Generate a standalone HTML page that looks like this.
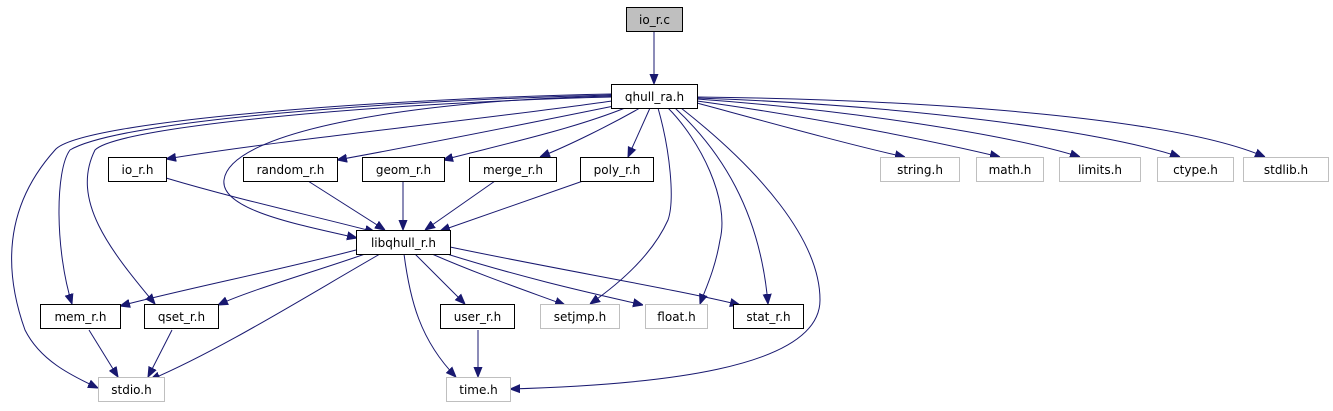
<!DOCTYPE html>
<html><head><meta charset="utf-8"><style>
html,body{margin:0;padding:0;background:#fff;}
svg{display:block;}
text{font-family:"DejaVu Sans","Liberation Sans",sans-serif;font-size:12px;fill:#000;}
.n{fill:#fff;stroke:#000;stroke-width:1;}
.g{fill:#fff;stroke:#bfbfbf;stroke-width:1;}
.e{fill:none;stroke:#191970;stroke-width:1;marker-end:url(#a);}
</style></head><body>
<svg width="1333" height="411" viewBox="0 0 1333 411" xmlns="http://www.w3.org/2000/svg">
<defs><marker id="a" viewBox="0 0 10 10" refX="10" refY="5" markerWidth="10" markerHeight="10" markerUnits="userSpaceOnUse" orient="auto"><path d="M0,1 L10,5 L0,9 z" fill="#191970" stroke="#191970"/></marker></defs>

<!-- edges -->
<path class="e" d="M654,31 L654,84"/>
<path class="e" d="M612,101 C480,120 280,140 166,159"/>
<path class="e" d="M614,106 C520,125 420,145 337,160"/>
<path class="e" d="M625,108 C570,130 500,145 443,160"/>
<path class="e" d="M640,108 C610,125 570,145 540,157"/>
<path class="e" d="M650,108 L628,157"/>
<path class="e" d="M697,103 C760,120 850,145 905,157"/>
<path class="e" d="M697,101 C800,115 930,140 1000,157"/>
<path class="e" d="M697,99 C850,110 1010,135 1080,157"/>
<path class="e" d="M697,98 C900,105 1100,130 1180,157"/>
<path class="e" d="M697,97 C950,100 1180,120 1265,157"/>
<path class="e" d="M612,96 C420,100 230,130 224,180 C220,210 300,225 357,238"/>
<path class="e" d="M612,95 C400,100 120,120 70,150 C55,170 55,250 72,304"/>
<path class="e" d="M612,97 C400,102 120,125 95,150 C70,200 110,250 155,304"/>
<path class="e" d="M612,94 C400,98 80,120 55,150 C10,200 0,260 25,330 C40,360 70,375 98,388"/>
<path class="e" d="M658,108 C670,150 675,200 668,220 C650,260 610,290 590,304"/>
<path class="e" d="M668,108 C700,140 730,200 720,240 C715,270 705,290 700,304"/>
<path class="e" d="M675,108 C720,150 760,210 768,304"/>
<path class="e" d="M681,108 C760,170 820,240 820,300 C820,370 650,385 510,389"/>
<path class="e" d="M356,250 C280,270 180,290 120,306"/>
<path class="e" d="M365,254 C320,270 250,290 218,305"/>
<path class="e" d="M415,254 L465,304"/>
<path class="e" d="M432,254 C480,275 530,292 565,305"/>
<path class="e" d="M447,254 C530,280 600,295 643,305"/>
<path class="e" d="M450,247 C560,270 680,290 740,305"/>
<path class="e" d="M380,254 C300,300 220,350 150,380"/>
<path class="e" d="M404,254 C410,300 420,340 456,377"/>
<path class="e" d="M166,178 C240,200 310,215 375,232"/>
<path class="e" d="M308,181 L385,230"/>
<path class="e" d="M403,181 L403,230"/>
<path class="e" d="M495,181 L425,230"/>
<path class="e" d="M583,181 L440,231"/>
<path class="e" d="M89,330 L118,377"/>
<path class="e" d="M172,330 L148,377"/>
<path class="e" d="M478,330 L478,377"/>

<!-- nodes -->
<rect x="626.5" y="7.5" width="56" height="24" fill="#bfbfbf" stroke="#000"/><text x="654.5" y="24" text-anchor="middle">io_r.c</text>
<rect class="n" x="611.5" y="84.5" width="86" height="24"/><text x="654.5" y="101" text-anchor="middle">qhull_ra.h</text>
<rect class="n" x="108.5" y="157.5" width="58" height="24"/><text x="137.5" y="174" text-anchor="middle">io_r.h</text>
<rect class="n" x="243.5" y="157.5" width="94" height="24"/><text x="290.5" y="174" text-anchor="middle">random_r.h</text>
<rect class="n" x="362.5" y="157.5" width="82" height="24"/><text x="403.5" y="174" text-anchor="middle">geom_r.h</text>
<rect class="n" x="469.5" y="157.5" width="87" height="24"/><text x="513" y="174" text-anchor="middle">merge_r.h</text>
<rect class="n" x="580.5" y="157.5" width="73" height="24"/><text x="617" y="174" text-anchor="middle">poly_r.h</text>
<rect class="g" x="880.5" y="157.5" width="79" height="24"/><text x="920" y="174" text-anchor="middle">string.h</text>
<rect class="g" x="976.5" y="157.5" width="67" height="24"/><text x="1010" y="174" text-anchor="middle">math.h</text>
<rect class="g" x="1059.5" y="157.5" width="81" height="24"/><text x="1100" y="174" text-anchor="middle">limits.h</text>
<rect class="g" x="1157.5" y="157.5" width="76" height="24"/><text x="1195.5" y="174" text-anchor="middle">ctype.h</text>
<rect class="g" x="1243.5" y="157.5" width="85" height="24"/><text x="1286" y="174" text-anchor="middle">stdlib.h</text>
<rect class="n" x="356.5" y="230.5" width="94" height="24"/><text x="403.5" y="247" text-anchor="middle">libqhull_r.h</text>
<rect class="n" x="40.5" y="304.5" width="80" height="24"/><text x="80.5" y="321" text-anchor="middle">mem_r.h</text>
<rect class="n" x="144.5" y="304.5" width="74" height="24"/><text x="181.5" y="321" text-anchor="middle">qset_r.h</text>
<rect class="n" x="440.5" y="304.5" width="74" height="24"/><text x="477.5" y="321" text-anchor="middle">user_r.h</text>
<rect class="g" x="540.5" y="304.5" width="79" height="24"/><text x="580" y="321" text-anchor="middle">setjmp.h</text>
<rect class="g" x="645.5" y="304.5" width="62" height="24"/><text x="676.5" y="321" text-anchor="middle">float.h</text>
<rect class="n" x="733.5" y="304.5" width="70" height="24"/><text x="768.5" y="321" text-anchor="middle">stat_r.h</text>
<rect class="g" x="98.5" y="377.5" width="66" height="24"/><text x="131.5" y="394" text-anchor="middle">stdio.h</text>
<rect class="g" x="446.5" y="377.5" width="64" height="24"/><text x="478.5" y="394" text-anchor="middle">time.h</text>
</svg>
</body></html>
